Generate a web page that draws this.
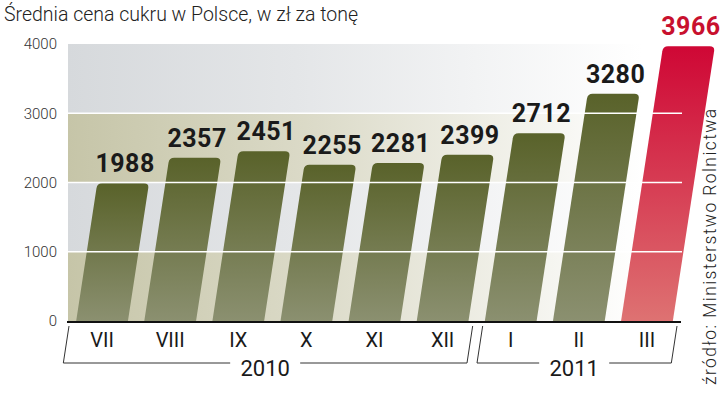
<!DOCTYPE html>
<html>
<head>
<meta charset="utf-8">
<script src="https://cdn.jsdelivr.net/npm/d3@7"></script>
<style>
	body { margin: 0; background: #fff; }
	#chart { width: 720px; height: 393px; }
	text { font-family: Roboto, "Liberation Sans", sans-serif; }
</style>
</head>
<body>
<div id="chart"></div>
<script>
let months = ["VII", "VIII", "IX", "X", "XI", "XII", "I", "II", "III"];
let prices = [1988, 2357, 2451, 2255, 2281, 2399, 2712, 3280, 3966];
let yTicks = [0, 1000, 2000, 3000, 4000];
let yearLabels = ["2010", "2011"];
let yearFirst = [0, 6]; // index of first month in the year
let yearLast = [5, 8]; // index of last month in the year
let title = "Średnia cena cukru w Polsce, w zł za tonę";
let source = "źródło: Ministerstwo Rolnictwa";

let margin = { top: 44, bottom: 72, left: 68, right: 39 };
let width = 720;
let height = 393;
let skew = 0.153; // bars lean to the right
let radius = 5;

let svg = d3
	.select("#chart")
	.append("svg")
	.attr("width", width)
	.attr("height", height);

let xScale = d3
	.scaleBand()
	.domain(months)
	.range([margin.left, width - margin.right])
	.paddingInner(0.24)
	.paddingOuter(0.12);

let yScale = d3
	.scaleLinear()
	.domain([0, 4000])
	.range([height - margin.bottom, margin.top]);

let defs = svg.append("defs");

let bandGrad = (id, color) => {
	let g = defs
		.append("linearGradient")
		.attr("id", id)
		.attr("gradientUnits", "userSpaceOnUse")
		.attr("x1", margin.left)
		.attr("x2", width)
		.attr("y1", 0)
		.attr("y2", 0);
	g.append("stop").attr("offset", 0).attr("stop-color", color);
	g.append("stop").attr("offset", 0.35).attr("stop-color", d3.interpolateRgb(color, "#fff")(0.35));
	g.append("stop").attr("offset", 0.88).attr("stop-color", "#fff");
};
bandGrad("tan", "#c6c5a8");
bandGrad("gray", "#d6d9dc");

let barGrad = (id, c1, c2) => {
	let g = defs
		.append("linearGradient")
		.attr("id", id)
		.attr("x1", 0)
		.attr("x2", 0)
		.attr("y1", 0)
		.attr("y2", 1);
	g.append("stop").attr("offset", 0).attr("stop-color", c1);
	g.append("stop").attr("offset", 1).attr("stop-color", c2);
};
barGrad("olive", "#59622a", "#8b9070");
barGrad("red", "#cf0735", "#de7272");

// title
svg
	.append("text")
	.attr("x", 4)
	.attr("y", 21)
	.attr("font-size", "19.5px")
	.attr("font-weight", 300)
	.attr("fill", "#222")
	.text(title);

// background bands
let bands = d3.pairs(yTicks);
svg
	.append("g")
	.selectAll("rect")
	.data(bands)
	.join("rect")
	.attr("x", margin.left)
	.attr("width", width - margin.left)
	.attr("y", (d) => yScale(d[1]))
	.attr("height", (d) => yScale(d[0]) - yScale(d[1]))
	.attr("fill", (d, i) => (i % 2 === 0 ? "url(#tan)" : "url(#gray)"));

// bars
let barPath = (d, i) => {
	let x0 = xScale(months[i]);
	let w = xScale.bandwidth();
	let y0 = yScale(0);
	let y1 = yScale(d);
	let s = (y0 - y1) * skew;
	let r = radius;
	let p = d3.path();
	p.moveTo(x0, y0);
	p.lineTo(x0 + s - r * skew, y1 + r);
	p.quadraticCurveTo(x0 + s, y1, x0 + s + r, y1);
	p.lineTo(x0 + s + w - r, y1);
	p.quadraticCurveTo(x0 + s + w, y1, x0 + s + w - r * skew, y1 + r);
	p.lineTo(x0 + w, y0);
	p.closePath();
	return p.toString();
};

svg
	.append("g")
	.selectAll("path")
	.data(prices)
	.join("path")
	.attr("d", barPath)
	.attr("fill", (d, i) => (i === prices.length - 1 ? "url(#red)" : "url(#olive)"));

// white grid lines over the bars
svg
	.append("g")
	.selectAll("line")
	.data(yTicks.slice(1, -1))
	.join("line")
	.attr("x1", margin.left)
	.attr("x2", width - margin.right + 1)
	.attr("y1", (d) => yScale(d))
	.attr("y2", (d) => yScale(d))
	.attr("stroke", "#fff")
	.attr("stroke-width", 1.6);

// value labels
svg
	.append("g")
	.selectAll("text")
	.data(prices)
	.join("text")
	.attr("x", (d, i) => xScale(months[i]) + (yScale(0) - yScale(d)) * skew + xScale.bandwidth() / 2 + 2)
	.attr("y", (d) => yScale(d) - 11)
	.attr("text-anchor", "middle")
	.attr("font-family", "'Liberation Sans Narrow', 'DejaVu Sans Condensed', sans-serif")
	.attr("font-weight", 700)
	.attr("font-size", "25px")
	.attr("letter-spacing", "0.5px")
	.attr("fill", (d, i) => (i === prices.length - 1 ? "#c8102e" : "#1a1a1a"))
	.text((d) => d);

// y axis
let yAxis = d3
	.axisLeft(yScale)
	.tickValues(yTicks)
	.tickFormat(d3.format("d"))
	.tickSize(0)
	.tickPadding(11);

svg
	.append("g")
	.attr("transform", `translate(${margin.left},0)`)
	.call(yAxis)
	.call((g) => g.select(".domain").remove())
	.call((g) =>
		g
			.selectAll("text")
			.attr("font-family", "Roboto, sans-serif")
			.attr("font-weight", 300)
			.attr("font-size", "15px")
			.attr("fill", "#333")
	);

// baseline
svg
	.append("line")
	.attr("x1", margin.left - 1)
	.attr("x2", width - margin.right)
	.attr("y1", yScale(0) + 1)
	.attr("y2", yScale(0) + 1)
	.attr("stroke", "#111")
	.attr("stroke-width", 2);

// month labels
svg
	.append("g")
	.selectAll("text")
	.data(months)
	.join("text")
	.attr("x", (d) => xScale(d) + xScale.bandwidth() / 2)
	.attr("y", yScale(0) + 26)
	.attr("text-anchor", "middle")
	.attr("font-size", "20px")
	.attr("font-weight", 400)
	.attr("fill", "#1a1a1a")
	.text((d) => d);

// year brackets
let step = xScale.step();
let gapMid = (i) => xScale(months[i]) - (step - xScale.bandwidth()) / 2;
let brTop = yScale(0) + 5;
let brBottom = yScale(0) + 42;
let lean = (brBottom - brTop) * skew;
let brackets = yearLabels.map((label, k) => {
	let first = yearFirst[k];
	let last = yearLast[k];
	let left = first === 0 ? margin.left + 1 : gapMid(first) + 6;
	let right = last === months.length - 1 ? width - margin.right - 4 : gapMid(last + 1) - 4;
	return { label, left, right };
});

let bg = svg.append("g").attr("fill", "none").attr("stroke", "#333").attr("stroke-width", 1);
brackets.forEach((b) => {
	let mid = (b.left - lean + b.right - lean) / 2;
	let half = 35;
	bg.append("path").attr(
		"d",
		`M${b.left},${brTop}L${b.left - lean},${brBottom}L${mid - half},${brBottom}`
	);
	bg.append("path").attr(
		"d",
		`M${mid + half},${brBottom}L${b.right - lean},${brBottom}L${b.right},${brTop}`
	);
	svg
		.append("text")
		.attr("x", mid)
		.attr("y", brBottom + 13)
		.attr("text-anchor", "middle")
		.attr("font-size", "22px")
		.attr("font-weight", 400)
		.attr("fill", "#1a1a1a")
		.text(b.label);
});

// source
svg
	.append("text")
	.attr("transform", `translate(716, 385) rotate(-90)`)
	.attr("font-size", "17.5px")
	.attr("font-weight", 300)
	.attr("letter-spacing", "1.4px")
	.attr("fill", "#222")
	.text(source);
</script>
</body>
</html>
